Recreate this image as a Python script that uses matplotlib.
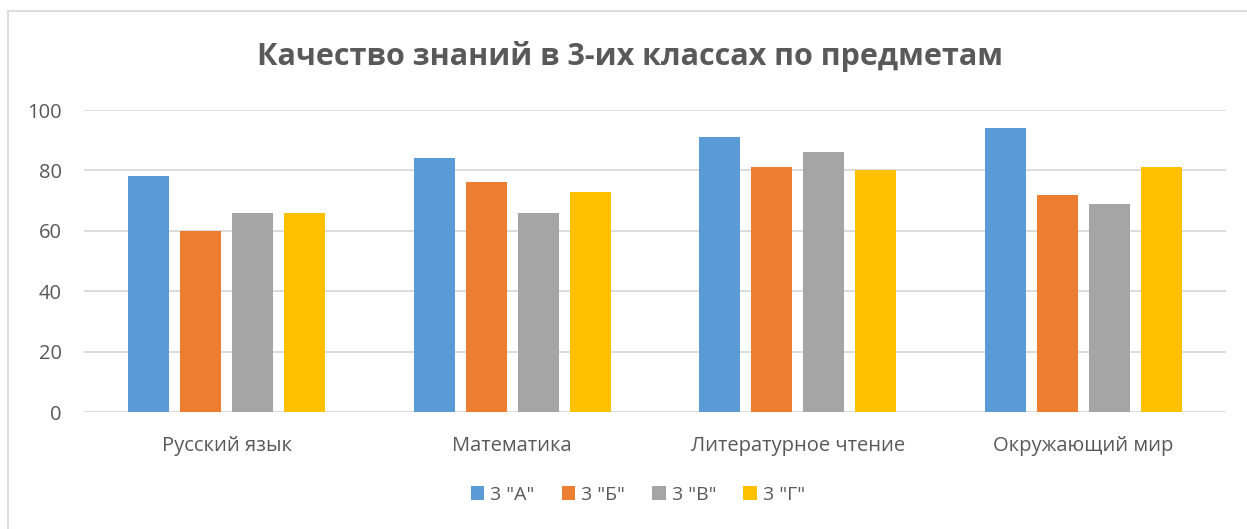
import numpy as np
import matplotlib.pyplot as plt
from matplotlib.lines import Line2D

# ── DATA ──────────────────────────────────────────
subjects = ["Русский язык", "Математика", "Литературное чтение", "Окружающий мир"]
classes  = ['3 "А"', '3 "Б"', '3 "В"', '3 "Г"']
class_a  = [78, 84, 91, 94]
class_b  = [60, 76, 81, 72]
class_v  = [66, 66, 86, 69]
class_g  = [66, 73, 80, 81]
colors   = ['#5B9BD5', '#ED7D31', '#A5A5A5', '#FFC000']

plt.rcParams['font.family'] = ['Open Sans', 'DejaVu Sans']
text_col = '#595959'

fig = plt.figure(figsize=(12.47, 5.29), dpi=100)
ax = fig.add_axes([84/1247, 1 - 412/529, (1226-84)/1247, 302/529])

x = np.arange(len(subjects))
step, width = 0.182, 0.1436
series = [class_a, class_b, class_v, class_g]
for i, (vals, c, lab) in enumerate(zip(series, colors, classes)):
    ax.bar(x + (i - 1.5) * step, vals, width, color=c, label=lab, zorder=3)

ax.set_xlim(-0.5, len(subjects) - 0.5)
ax.set_ylim(0, 100)
ax.set_yticks(range(0, 101, 20))
ax.set_xticks(x)
ax.set_xticklabels(subjects)
ax.tick_params(axis='both', length=0, labelsize=14.5, colors=text_col)
ax.tick_params(axis='x', pad=17)
ax.tick_params(axis='y', pad=16)
ax.grid(axis='y', color='#D9D9D9', linewidth=1.3, zorder=0)
for s in ax.spines.values():
    s.set_visible(False)

fig.text(0.505, 1 - 57/529, "Качество знаний в 3-их классах по предметам",
         ha='center', va='center', fontsize=22, fontweight='bold', color=text_col)

ax.legend(loc='center', bbox_to_anchor=(0.485, (412 - 495) / 302), ncol=4,
          frameon=False, fontsize=14, labelcolor=text_col,
          handlelength=0.7, handleheight=0.7, handletextpad=0.3, columnspacing=1.4)

# chart border (left and top only visible)
fig.add_artist(Line2D([8/1247, 8/1247], [0, 1 - 11/529], color='#D9D9D9', lw=1.3))
fig.add_artist(Line2D([8/1247, 1], [1 - 11/529, 1 - 11/529], color='#D9D9D9', lw=1.3))

fig.savefig("out.png", dpi=100)
